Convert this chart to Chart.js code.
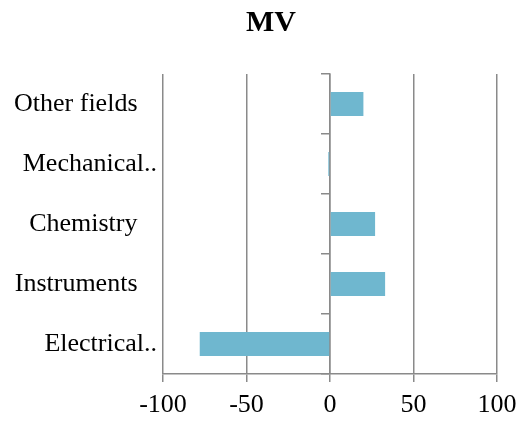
<!DOCTYPE html>
<html>
<head>
<meta charset="utf-8">
<script src="https://cdn.jsdelivr.net/npm/chart.js@4/dist/chart.umd.min.js"></script>
<style>
  html, body { margin: 0; padding: 0; background: #fff; }
  #wrap { width: 525px; height: 423px; }
</style>
</head>
<body>
<div id="wrap"><canvas id="mvChart"></canvas></div>
<script>
const categories = ['Other fields', 'Mechanical..', 'Chemistry', 'Instruments', 'Electrical..'];
const mvValues = [20, -1, 27, 33, -78];
const xTicks = [-100, -50, 0, 50, 100];

const gridColor = '#8a8a8a';
const serif = 'Liberation Serif, Times New Roman, serif';

// let the long category labels run to the canvas edge instead of being clipped
const labelRoom = {
    id: 'labelRoom',
    afterLayout: chart => { chart.scales.y.left = 0; }
};

new Chart(document.getElementById('mvChart').getContext('2d'), {
    type: 'bar',
    data: {
        labels: categories,
        datasets: [{
            label: 'MV',
            data: mvValues,
            backgroundColor: '#6fb7cf',
            borderWidth: 0,
            categoryPercentage: 1,
            barPercentage: 0.4
        }]
    },
    options: {
        indexAxis: 'y',
        responsive: true,
        maintainAspectRatio: false,
        animation: false,
        layout: { padding: { left: 17, right: 0, top: 0, bottom: 0 } },
        plugins: {
            legend: { display: false },
            tooltip: { enabled: false },
            title: {
                display: true,
                text: 'MV',
                color: '#000',
                font: { family: serif, size: 30, weight: 'bold' },
                padding: { top: 5, bottom: 33 }
            }
        },
        scales: {
            x: {
                min: -100,
                max: 100,
                afterBuildTicks: axis => { axis.ticks = xTicks.map(v => ({ value: v })); },
                afterFit: axis => {
                    axis.height = 49;
                    axis.paddingLeft = 0;
                    axis.paddingRight = 28;
                },
                grid: { color: gridColor, lineWidth: 1.5, tickLength: 8 },
                border: { display: true, color: gridColor, width: 1.5 },
                ticks: {
                    color: '#000',
                    padding: 8,
                    maxRotation: 0,
                    font: { family: serif, size: 26 }
                }
            },
            y: {
                afterFit: axis => { axis.width = 146; },
                grid: { display: false, drawTicks: false },
                border: { display: false },
                ticks: {
                    color: '#000',
                    padding: 6,
                    font: { family: serif, size: 26 },
                    // labels cut with '..' hang further right, like the original
                    callback: function (v) {
                        const s = this.getLabelForValue(v);
                        return s.endsWith('..') ? s : s + '   ';
                    }
                }
            },
            yz: {
                type: 'category',
                axis: 'y',
                position: { x: 0 },
                offset: true,
                afterFit: axis => { axis.width = 0; },
                grid: { offset: true, drawOnChartArea: false, color: gridColor, lineWidth: 1.5, tickLength: 8 },
                border: { display: true, color: gridColor, width: 1.5 },
                ticks: { display: false }
            }
        }
    },
    plugins: [labelRoom]
});
</script>
</body>
</html>
